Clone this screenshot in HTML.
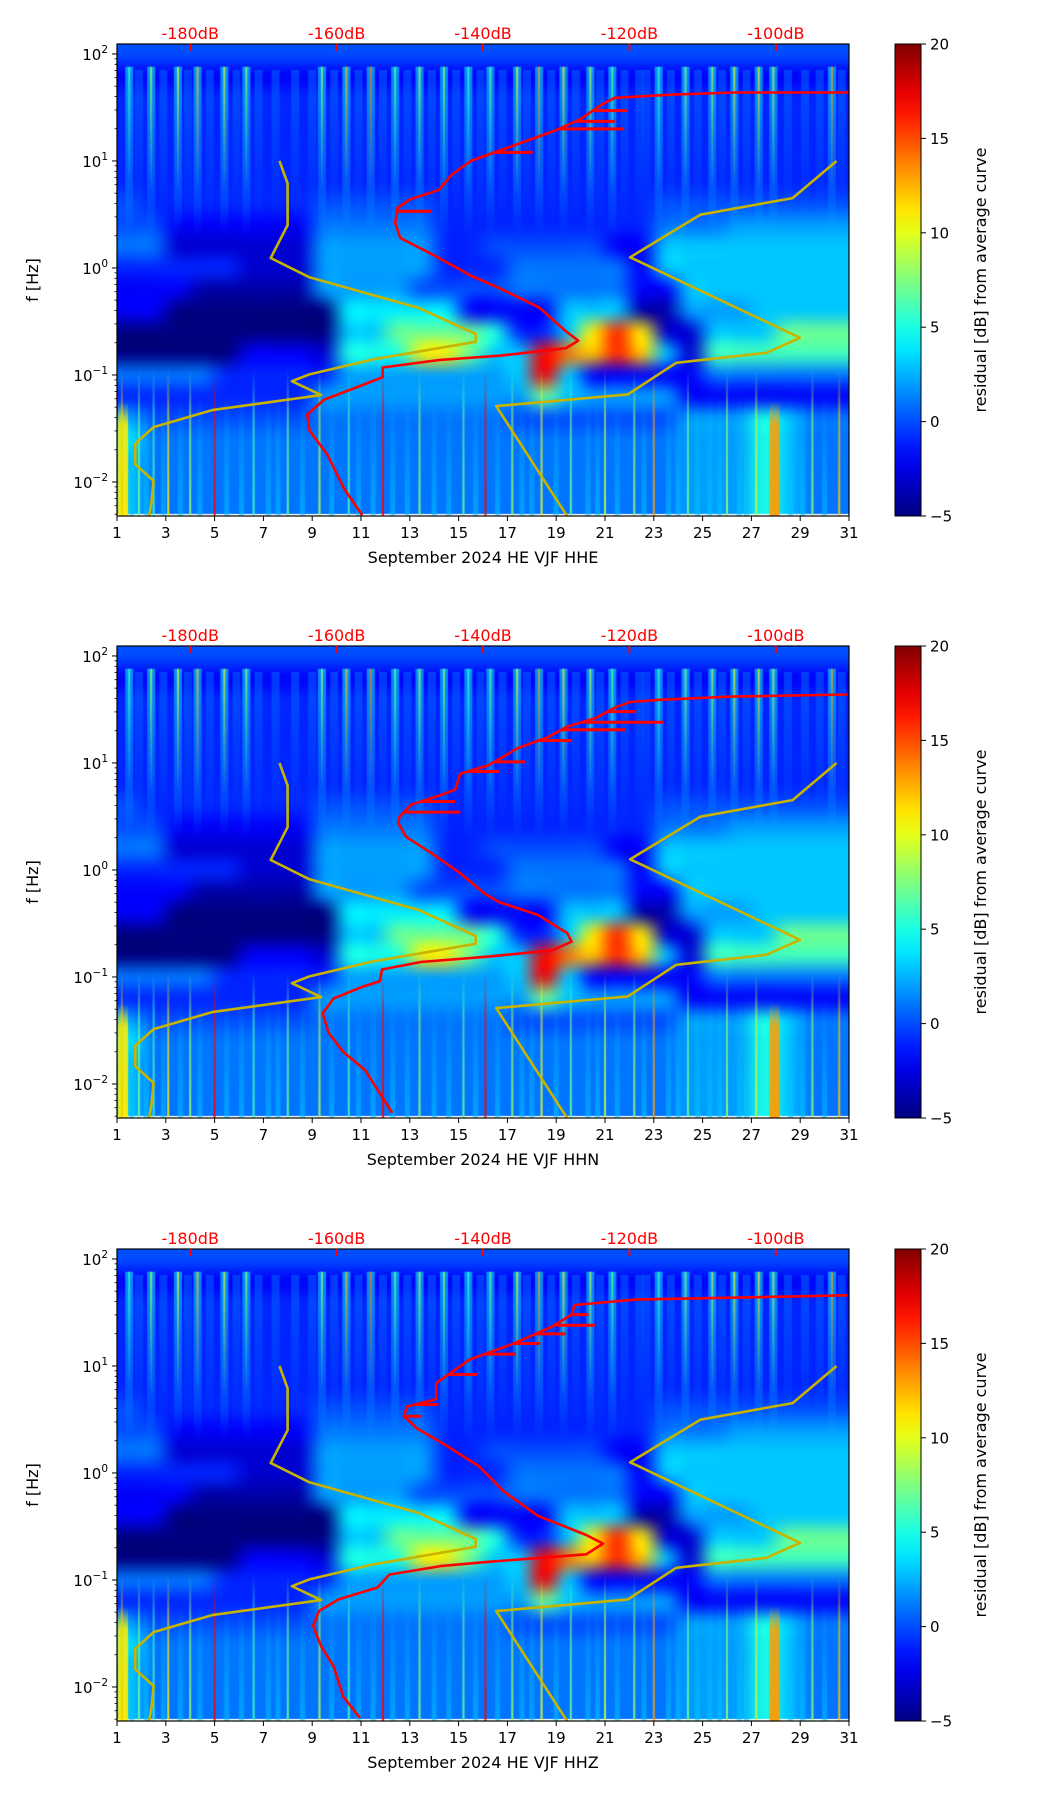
<!DOCTYPE html>
<html><head><meta charset="utf-8">
<style>
html,body{margin:0;padding:0;background:#fff;}
#wrap{position:relative;width:1052px;height:1806px;overflow:hidden;font-family:"DejaVu Sans","Liberation Sans",sans-serif;}
canvas{position:absolute;left:0;}
svg{position:absolute;left:0;top:0;}
</style></head>
<body>
<div id="wrap">
<canvas id="c0" width="1052" height="1806" style="top:0"></canvas>
<svg id="s" width="1052" height="1806" xmlns="http://www.w3.org/2000/svg"></svg>
</div>
<script>
// ---- data ----
const panelTitles = ["September 2024 HE VJF  HHE","September 2024 HE VJF  HHN","September 2024 HE VJF  HHZ"];
const dbTickValues = [-180,-160,-140,-120,-100];
const dbTickLabels = ["-180dB","-160dB","-140dB","-120dB","-100dB"];
const dayTicks = [1,3,5,7,9,11,13,15,17,19,21,23,25,27,29,31];
const decadeTicks = [-2,-1,0,1,2];
const cbTicks = [-5,0,5,10,15,20];
// heatmap rows: log10(f) from 2.1 down to -2.3 in 0.2 steps; chars '0'..'p' = -5..20 dB residual; 30 day columns
const heatRows = [
"555555555555555555555555555555",
"333333333333333333333333333333",
"444444444444444444444444444444",
"444444444444444444444444444444",
"444444444444444444444444444444",
"444444444444444444444444444444",
"444444444444444444444444444444",
"544444445555544444444455555555",
"553333336666644444444466677777",
"662222227777744555553388888888",
"444442227777744466666388888888",
"333111117777555566666338888888",
"330000000999993333888117778888",
"00000000088cccca448glg22888ccc",
"000003332aaaggc88mjhlh82bbbbbb",
"66664444477777778m833333666666",
"44444444777777777c877773333333",
"75555555666666665555555777a866",
"96666666666666666666666777a866",
"86666666666666666666666777a866",
"86666666666666666666666777a866",
"86666666666666666666666777a866"
];
// narrow bright vertical bands in the low-frequency part (day, residual dB)
const bandDays = [1.25,27.95];
const bandValues = [11,13];
const upperStripeDays = [1.5,2.4,3.5,4.3,5.4,6.3,9.4,10.4,11.4,12.4,13.4,14.4,15.4,16.3,17.4,18.3,19.3,20.4,21.3,23.2,24.3,25.4,26.3,27.3,27.9,30.3];
const upperStripeValues = [6,9,10,12,10,8,8,12,14,7,9,8,6,7,10,13,11,9,7,6,8,9,10,11,9,13];
const lowerSpikeDays = [1.2,1.9,2.5,3.1,4.0,5.0,6.6,8.0,9.3,10.5,11.9,13.4,15.2,16.1,17.2,18.4,19.6,21.0,22.2,23.0,24.4,26.0,27.2,29.5,30.6];
const lowerSpikeValues = [12,7,6,11,8,17,6,7,9,6,17,8,7,17,8,10,7,9,8,13,7,8,9,8,12];
const lowerStreakDays = [1.6,2.2,2.9,3.6,4.4,5.5,6.1,7.2,7.6,8.6,9.8,10.9,11.5,12.3,12.9,14.0,14.6,15.7,16.6,17.6,18.0,19.0,20.3,20.7,21.5,22.6,23.6,24.0,24.8,25.3,25.7,26.5,26.8,28.6,29.1,30.0];
const upperSoftDays = [1.9,2.9,3.9,4.8,5.9,6.8,7.5,8.3,9.0,9.9,10.9,11.9,12.9,13.9,14.9,15.9,16.8,17.8,18.8,19.8,20.8,21.8,22.4,22.7,23.7,24.8,25.8,26.8,28.5,29.2,29.8,30.7];
// red curves: dB vs log10(f)
const redDb1 = [-156.5,-159.0,-161.3,-163.7,-164.0,-161.7,-156.3,-153.7,-153.7,-146.0,-137.7,-128.7,-127.0,-128.7,-132.3,-137.7,-141.7,-147.0,-151.3,-152.0,-151.7,-150.0,-146.0,-144.3,-141.7,-136.0,-130.3,-126.7,-123.7,-122.0,-114.0,-105.7,-90.0];
const redLogF1 = [-2.31,-2.06,-1.74,-1.52,-1.37,-1.23,-1.09,-1.02,-0.93,-0.86,-0.82,-0.75,-0.68,-0.59,-0.37,-0.19,-0.07,0.13,0.28,0.42,0.56,0.64,0.73,0.87,1.0,1.14,1.28,1.39,1.53,1.59,1.62,1.64,1.64];
const redDb2 = [-152.4,-156.1,-159.1,-161.1,-161.9,-160.4,-156.4,-154.1,-153.8,-148.5,-139.2,-130.5,-127.9,-128.5,-132.5,-137.8,-139.8,-143.1,-147.1,-150.5,-151.6,-151.4,-149.8,-145.8,-143.8,-143.1,-139.2,-135.2,-131.2,-128.5,-124.6,-121.9,-119.9,-115.9,-106.0,-90.2];
const redLogF2 = [-2.27,-1.87,-1.70,-1.52,-1.34,-1.20,-1.09,-1.04,-0.93,-0.86,-0.81,-0.75,-0.67,-0.59,-0.42,-0.30,-0.22,-0.03,0.16,0.31,0.44,0.50,0.61,0.70,0.75,0.90,0.98,1.14,1.24,1.34,1.42,1.52,1.57,1.59,1.62,1.64];
const redDb3 = [-156.8,-159.1,-160.4,-162.1,-163.2,-162.4,-159.7,-154.4,-152.8,-145.8,-139.2,-125.9,-123.6,-125.9,-132.5,-137.2,-140.5,-145.1,-149.1,-150.8,-150.4,-146.4,-146.4,-141.8,-135.8,-130.5,-127.9,-127.5,-119.2,-90.2];
const redLogF3 = [-2.29,-2.09,-1.81,-1.62,-1.43,-1.29,-1.18,-1.07,-0.95,-0.87,-0.83,-0.76,-0.66,-0.58,-0.40,-0.17,0.06,0.26,0.42,0.53,0.62,0.69,0.84,1.06,1.21,1.37,1.48,1.57,1.62,1.66];
// red short horizontal artefacts: log10(f) and end dB
const spikeLogF1 = [1.47,1.37,1.30,1.08,0.78,0.53];
const spikeDb1 = [-120.3,-122.0,-120.7,-133.2,-145.7,-147.0];
const spikeLogF2 = [1.48,1.38,1.31,1.21,1.01,0.92,0.64,0.54];
const spikeDb2 = [-119.2,-115.3,-120.6,-127.9,-134.2,-137.8,-143.8,-143.1];
const spikeLogF3 = [1.48,1.38,1.30,1.21,1.11,0.92,0.64,0.53];
const spikeDb3 = [-125.6,-124.6,-128.7,-132.2,-135.5,-140.8,-146.1,-148.4];
// yellow curves (same on all panels)
const yellowLeftDb = [-167.8,-166.7,-166.7,-169.0,-163.7,-148.8,-141.0,-141.0,-155.1,-163.7,-166.1,-162.1,-177.0,-185.0,-187.5,-187.5,-185.0,-185.3,-185.6];
const yellowLeftLogF = [1.00,0.79,0.40,0.093,-0.087,-0.373,-0.616,-0.69,-0.855,-0.995,-1.058,-1.188,-1.328,-1.487,-1.642,-1.835,-1.99,-2.19,-2.32];
const yellowRightDb = [-91.7,-97.7,-110.3,-119.9,-96.7,-101.3,-113.6,-120.2,-138.2,-128.5];
const yellowRightLogF = [1.00,0.653,0.498,0.10,-0.653,-0.793,-0.886,-1.182,-1.291,-2.32];

// ---- layout ----
const L=117, W=732, H=472, TOPS=[44,646,1249];
const LOGTOP=2.093, LOGBOT=-2.318;
const CBX=895, CBW=26;
const NS="http://www.w3.org/2000/svg";
const svg=document.getElementById('s');
const ctx=document.getElementById('c0').getContext('2d');

function clip(v){return Math.max(0,Math.min(1,v));}
function jet(v){const t=(v+5)/25;return [Math.round(255*clip(1.5-Math.abs(4*t-3))),Math.round(255*clip(1.5-Math.abs(4*t-2))),Math.round(255*clip(1.5-Math.abs(4*t-1)))];}
function rgb(a,al){return al===undefined?`rgb(${a[0]},${a[1]},${a[2]})`:`rgba(${a[0]},${a[1]},${a[2]},${al})`;}
function xDay(d){return L+(d-1)/30*W;}
function xDb(db){return xDay(4+(db+180)*0.3);}
function yF(T,lf){return T+(LOGTOP-lf)/(LOGTOP-LOGBOT)*H;}
function charVal(c){return parseInt(c,26)-5;}
function el(tag,attrs,parent){const e=document.createElementNS(NS,tag);for(const k in attrs)e.setAttribute(k,attrs[k]);(parent||svg).appendChild(e);return e;}

const small=document.createElement('canvas');
small.width=30;small.height=heatRows.length;
const sctx=small.getContext('2d');
const img=sctx.createImageData(30,heatRows.length);
heatRows.forEach((row,r)=>{for(let c=0;c<30;c++){const col=jet(charVal(row[c]||'5'));const i=(r*30+c)*4;img.data[i]=col[0];img.data[i+1]=col[1];img.data[i+2]=col[2];img.data[i+3]=255;}});
sctx.putImageData(img,0,0);

function polyPts(T,dbs,lfs){return dbs.map((d,i)=>xDb(d).toFixed(1)+','+yF(T,lfs[i]).toFixed(1)).join(' ');}
function dbAt(dbs,lfs,lf){for(let i=lfs.length-1;i>0;i--){const a=lfs[i-1],b=lfs[i];if((lf-a)*(lf-b)<=0&&a!==b){return dbs[i-1]+(dbs[i]-dbs[i-1])*(lf-a)/(b-a);}}return dbs[0];}

const reds=[[redDb1,redLogF1,spikeLogF1,spikeDb1],[redDb2,redLogF2,spikeLogF2,spikeDb2],[redDb3,redLogF3,spikeLogF3,spikeDb3]];

TOPS.forEach((T,p)=>{
  ctx.save();
  ctx.beginPath();ctx.rect(L,T,W,H);ctx.clip();
  ctx.imageSmoothingEnabled=true;
  ctx.imageSmoothingQuality='high';
  const y0=yF(T,2.1), y1=yF(T,2.1-0.2*heatRows.length);
  ctx.drawImage(small,L,y0,W,y1-y0);
  upperSoftDays.forEach(d=>{
    const x=xDay(d);
    const g=ctx.createLinearGradient(0,yF(T,1.85),0,yF(T,0.4));
    g.addColorStop(0,rgb(jet(2),0.35));g.addColorStop(1,rgb(jet(2),0));
    ctx.fillStyle=g;ctx.fillRect(x-4,yF(T,1.85),8,yF(T,0.4)-yF(T,1.85));
  });
  upperStripeDays.forEach((d,i)=>{
    const x=xDay(d);const v=upperStripeValues[i];
    const g=ctx.createLinearGradient(0,yF(T,1.88),0,yF(T,0.3));
    g.addColorStop(0,rgb(jet(4),0.6));g.addColorStop(0.6,rgb(jet(3),0.35));g.addColorStop(1,rgb(jet(3),0));
    ctx.fillStyle=g;ctx.fillRect(x-4,yF(T,1.88),8,yF(T,0.3)-yF(T,1.88));
    const g2=ctx.createLinearGradient(0,yF(T,1.88),0,yF(T,0.7));
    g2.addColorStop(0,rgb(jet(v),0.75));g2.addColorStop(1,rgb(jet(v),0));
    ctx.fillStyle=g2;ctx.fillRect(x-1,yF(T,1.88),2,yF(T,0.7)-yF(T,1.88));
  });
  lowerStreakDays.forEach(d=>{
    const x=xDay(d);
    const g=ctx.createLinearGradient(0,yF(T,LOGBOT),0,yF(T,-1.2));
    g.addColorStop(0,rgb(jet(3),0.55));g.addColorStop(1,rgb(jet(3),0));
    ctx.fillStyle=g;ctx.fillRect(x-2.5,yF(T,-1.2),5,yF(T,LOGBOT)-yF(T,-1.2));
  });
  bandDays.forEach((d,i)=>{
    const x=xDay(d);const v=bandValues[i];
    const g=ctx.createLinearGradient(0,yF(T,LOGBOT),0,yF(T,-1.25));
    g.addColorStop(0,rgb(jet(v),0.95));g.addColorStop(0.8,rgb(jet(v),0.85));g.addColorStop(1,rgb(jet(v),0));
    ctx.fillStyle=g;ctx.fillRect(x-5,yF(T,-1.25),10,yF(T,LOGBOT)-yF(T,-1.25));
  });
  lowerSpikeDays.forEach((d,i)=>{
    const x=xDay(d);const v=lowerSpikeValues[i];
    const g=ctx.createLinearGradient(0,yF(T,LOGBOT),0,yF(T,-0.95));
    g.addColorStop(0,rgb(jet(v),0.9));g.addColorStop(0.7,rgb(jet(v),0.6));g.addColorStop(1,rgb(jet(v),0));
    ctx.fillStyle=g;ctx.fillRect(x-1,yF(T,-0.95),2,yF(T,LOGBOT)-yF(T,-0.95));
  });
  ctx.restore();

  const cg=ctx.createLinearGradient(0,T+H,0,T);
  for(let k=0;k<=20;k++){cg.addColorStop(k/20,rgb(jet(-5+25*k/20)));}
  ctx.fillStyle=cg;ctx.fillRect(CBX,T,CBW,H);

  const grp=el('g',{});
  
  

  const yl=el('polyline',{points:polyPts(T,yellowLeftDb,yellowLeftLogF),fill:'none',stroke:'#c8b400','stroke-width':2.6,'stroke-linejoin':'round'},grp);
  
  
  const yr=el('polyline',{points:polyPts(T,yellowRightDb,yellowRightLogF),fill:'none',stroke:'#c8b400','stroke-width':2.6,'stroke-linejoin':'round'},grp);
  
  
  const [rd,rl,sl,sd]=reds[p];
  const cp=el('clipPath',{id:'cp'+p},grp);el('rect',{x:L,y:T,width:W,height:H},cp);
  const rg=el('g',{'clip-path':'url(#cp'+p+')'},grp);
  const rc=el('polyline',{points:polyPts(T,rd,rl),fill:'none',stroke:'#ff0000','stroke-width':2.6,'stroke-linejoin':'round'},rg);
  
  
  sl.forEach((lf,i)=>{
    const y=yF(T,lf);
    const s=el('line',{x1:xDb(dbAt(rd,rl,lf)),y1:y,x2:xDb(sd[i]),y2:y,stroke:'#ff0000','stroke-width':3},rg);
    
    
  });

  const fr=el('rect',{x:L,y:T,width:W,height:H,fill:'none',stroke:'#000','stroke-width':1.2},grp);
  
  

  dbTickValues.forEach((v,i)=>{
    const x=xDb(v);
    el('line',{x1:x,y1:T,x2:x,y2:T+7,stroke:'#ff0000','stroke-width':2},grp);
    const t=el('text',{x:x,y:T-5,'text-anchor':'middle','font-size':16,fill:'#ff0000'},grp);
    t.textContent=dbTickLabels[i];
    
    
  });
  dayTicks.forEach(d=>{
    const x=xDay(d);
    el('line',{x1:x,y1:T+H,x2:x,y2:T+H+5,stroke:'#000','stroke-width':1},grp);
    const t=el('text',{x:x,y:T+H+22,'text-anchor':'middle','font-size':15,fill:'#000'},grp);
    t.textContent=d;
    
    
  });
  const xl=el('text',{x:L+W/2,y:T+H+47,'text-anchor':'middle','font-size':16,fill:'#000'},grp);
  xl.textContent=panelTitles[p];
  
  
  for(let dec=-3;dec<=2;dec++){for(let k=1;k<=9;k++){
    const lf=dec+Math.log10(k); if(lf>LOGTOP||lf<LOGBOT)continue;
    const y=yF(T,lf);
    el('line',{x1:L,y1:y,x2:L-(k===1?5:2.5),y2:y,stroke:'#000','stroke-width':k===1?1:0.8},grp);
  }}
  decadeTicks.forEach(dec=>{
    const y=yF(T,dec);
    const t=el('text',{x:L-9,y:y+6,'text-anchor':'end','font-size':15,fill:'#000'},grp);
    const a=el('tspan',{},t);a.textContent='10';
    const b=el('tspan',{dy:-7,'font-size':10.5},t);b.textContent=(dec<0?'\u2212':'')+Math.abs(dec);
    
    
  });
  const ylab=el('text',{x:0,y:0,transform:`translate(38,${T+H/2}) rotate(-90)`,'text-anchor':'middle','font-size':16,fill:'#000'},grp);
  ylab.textContent='f [Hz]';
  
  

  const cbf=el('rect',{x:CBX,y:T,width:CBW,height:H,fill:'none',stroke:'#000','stroke-width':1},grp);
  
  
  cbTicks.forEach(v=>{
    const y=T+H-(v+5)/25*H;
    el('line',{x1:CBX+CBW,y1:y,x2:CBX+CBW+5,y2:y,stroke:'#000','stroke-width':1},grp);
    const t=el('text',{x:CBX+CBW+9,y:y+5.5,'font-size':15,fill:'#000'},grp);
    t.textContent=v<0?'\u2212'+Math.abs(v):String(v);
    
    
  });
  const cl=el('text',{x:0,y:0,transform:`translate(986,${T+H/2}) rotate(-90)`,'text-anchor':'middle','font-size':16,fill:'#000'},grp);
  cl.textContent='residual [dB] from average curve';
  
  
});
</script>
</body></html>
